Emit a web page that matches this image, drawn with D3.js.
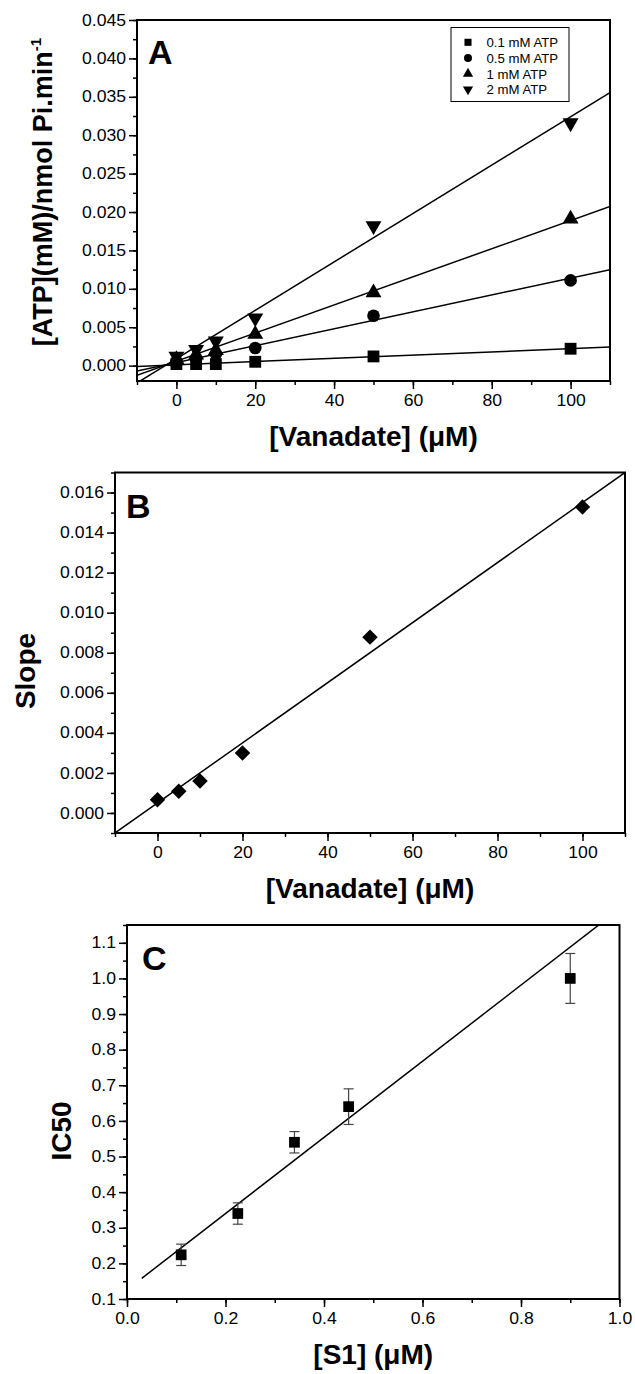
<!DOCTYPE html>
<html><head><meta charset="utf-8">
<script src="https://cdn.jsdelivr.net/npm/d3@7"></script>
<style>
body{margin:0;background:#fff;}
svg{display:block;font-family:"Liberation Sans",Arial,sans-serif;}
.tick text{fill:#000;}
</style></head>
<body>
<svg id="chart" width="635" height="1374"></svg>
<script>
// ---------- Panel A data ----------
const aX = [0, 5, 10, 20, 50, 100];
const aSeriesNames = ["0.1 mM ATP", "0.5 mM ATP", "1 mM ATP", "2 mM ATP"];
const atp01 = [0.0002, 0.0002, 0.0002, 0.0005, 0.0012, 0.0022];
const atp05 = [0.0005, 0.0009, 0.0015, 0.0023, 0.0065, 0.0111];
const atp1  = [0.0008, 0.0014, 0.0020, 0.0041, 0.0095, 0.0191];
const atp2  = [0.0012, 0.0021, 0.0032, 0.0062, 0.0182, 0.0316];
const aFitSlope = [0.000021, 0.00011, 0.000183, 0.000315];
const aFitIntercept = [0.00011, 0.0004, 0.00058, 0.0009];
const aYTicks = [0.000, 0.005, 0.010, 0.015, 0.020, 0.025, 0.030, 0.035, 0.040, 0.045];
const aXTicks = [0, 20, 40, 60, 80, 100];

// ---------- Panel B data ----------
const bX = [0, 5, 10, 20, 50, 100];
const bY = [0.00066, 0.00108, 0.00160, 0.00299, 0.00878, 0.01528];
const bFit = [0.00015, 0.0005]; // slope, intercept
const bYTicks = [0.000, 0.002, 0.004, 0.006, 0.008, 0.010, 0.012, 0.014, 0.016];
const bXTicks = [0, 20, 40, 60, 80, 100];

// ---------- Panel C data ----------
const cX = [0.11, 0.225, 0.34, 0.45, 0.9];
const cY = [0.224, 0.34, 0.54, 0.64, 1.0];
const cErr = [0.03, 0.03, 0.03, 0.05, 0.07];
const cFit = [1.069, 0.126]; // slope, intercept
const cFitRange = [0.03, 0.96];
const cYTicks = [0.1, 0.2, 0.3, 0.4, 0.5, 0.6, 0.7, 0.8, 0.9, 1.0, 1.1];
const cXTicks = [0.0, 0.2, 0.4, 0.6, 0.8, 1.0];

const svg = d3.select("#chart");
svg.append("rect").attr("width", 635).attr("height", 1374).attr("fill", "#fff");

function range(a, b, step) { const r = []; for (let v = a; v <= b + step * 1e-6; v += step) r.push(+v.toFixed(6)); return r; }

function stretch(sel, f) {
  sel.each(function () {
    const w = this.getComputedTextLength();
    d3.select(this).attr("textLength", w * f).attr("lengthAdjust", "spacingAndGlyphs");
  });
}

function panel(opt) {
  const g = svg.append("g");
  const x = d3.scaleLinear().domain(opt.xDomain).range([opt.left, opt.right]);
  const y = d3.scaleLinear().domain(opt.yDomain).range([opt.bottom, opt.top]);
  const id = "clip" + opt.name;
  svg.append("clipPath").attr("id", id).append("rect")
    .attr("x", opt.left).attr("y", opt.top)
    .attr("width", opt.right - opt.left).attr("height", opt.bottom - opt.top);

  // minor ticks
  g.append("g").attr("transform", `translate(0,${opt.bottom})`)
    .call(d3.axisBottom(x).tickValues(opt.xMinor).tickSize(4).tickFormat("").tickSizeOuter(0))
    .call(s => s.select(".domain").remove())
    .selectAll("line").attr("stroke-width", 1.5);
  g.append("g").attr("transform", `translate(${opt.left},0)`)
    .call(d3.axisLeft(y).tickValues(opt.yMinor).tickSize(4).tickFormat("").tickSizeOuter(0))
    .call(s => s.select(".domain").remove())
    .selectAll("line").attr("stroke-width", 1.5);
  // major ticks
  const xa = g.append("g").attr("transform", `translate(0,${opt.bottom})`)
    .call(d3.axisBottom(x).tickValues(opt.xTicks).tickSize(8).tickPadding(6).tickFormat(opt.xFmt).tickSizeOuter(0));
  xa.select(".domain").remove();
  xa.selectAll("line").attr("stroke-width", 1.5);
  const ya = g.append("g").attr("transform", `translate(${opt.left},0)`)
    .call(d3.axisLeft(y).tickValues(opt.yTicks).tickSize(8).tickPadding(3).tickFormat(opt.yFmt).tickSizeOuter(0));
  ya.select(".domain").remove();
  ya.selectAll("line").attr("stroke-width", 1.5);
  g.selectAll("g").attr("font-family", null).attr("font-size", null);
  const tt = g.selectAll(".tick text").style("font-size", "16px");
  stretch(tt, 1.1);

  // frame
  g.append("rect").attr("x", opt.left).attr("y", opt.top)
    .attr("width", opt.right - opt.left).attr("height", opt.bottom - opt.top)
    .attr("fill", "none").attr("stroke", "#000").attr("stroke-width", 2);

  // panel letter
  g.append("text").attr("x", opt.letterX).attr("y", opt.letterY)
    .attr("font-size", 34).attr("font-weight", "bold").text(opt.name);

  // x title
  g.append("text").attr("x", (opt.left + opt.right) / 2).attr("y", opt.bottom + 65)
    .attr("text-anchor", "middle").attr("font-size", 28).attr("font-weight", "bold")
    .text(opt.xTitle);

  return { g, x, y, clip: `url(#${id})` };
}

// ---------------- Panel A ----------------
{
  const P = panel({
    name: "A", left: 137, right: 610, top: 20, bottom: 381,
    xDomain: [-10, 110], yDomain: [-0.002, 0.045],
    xTicks: aXTicks, xMinor: range(-10, 110, 10),
    yTicks: aYTicks, yMinor: range(-0.0025, 0.045, 0.0025).filter(v => v >= -0.002),
    xFmt: d3.format("d"), yFmt: d3.format(".3f"),
    letterX: 148, letterY: 64, xTitle: "[Vanadate] (\u03bcM)"
  });
  const { g, x, y } = P;
  const series = [atp01, atp05, atp1, atp2];
  const syms = [d3.symbolSquare, d3.symbolCircle, d3.symbolTriangle, d3.symbolTriangle];
  const sizes = [140, 125, 110, 110];
  const rot = [0, 0, 0, 180];
  const lg = g.append("g").attr("clip-path", P.clip);
  series.forEach((s, i) => {
    lg.append("line")
      .attr("x1", x(-10)).attr("y1", y(aFitIntercept[i] + aFitSlope[i] * -10))
      .attr("x2", x(110)).attr("y2", y(aFitIntercept[i] + aFitSlope[i] * 110))
      .attr("stroke", "#000").attr("stroke-width", 1.5);
  });
  series.forEach((s, i) => {
    g.selectAll(null).data(s).enter().append("path")
      .attr("d", d3.symbol().type(syms[i]).size(sizes[i]))
      .attr("transform", (d, j) => `translate(${x(aX[j])},${y(d)}) rotate(${rot[i]})`)
      .attr("fill", "#000");
  });
  // y title
  const yt = g.append("text").attr("transform", "translate(52,192) rotate(-90)")
    .attr("text-anchor", "middle").attr("font-size", 27).attr("font-weight", "bold");
  yt.append("tspan").text("[ATP](mM)/nmol Pi.min");
  yt.append("tspan").attr("font-size", 15).attr("dy", -11).text("-1");
  // legend
  const leg = g.append("g");
  leg.append("rect").attr("x", 451).attr("y", 27.5).attr("width", 118).attr("height", 74)
    .attr("fill", "#fff").attr("stroke", "#000").attr("stroke-width", 1);
  const lsizes = [50, 50, 45, 45];
  aSeriesNames.forEach((n, i) => {
    const cy = 42.3 + i * 15.7;
    leg.append("path").attr("d", d3.symbol().type(syms[i]).size(lsizes[i]))
      .attr("transform", `translate(468,${cy}) rotate(${rot[i]})`).attr("fill", "#000");
    leg.append("text").attr("x", 486.5).attr("y", cy + 4.8).attr("font-size", 13.2).text(n);
  });
}

// ---------------- Panel B ----------------
{
  const P = panel({
    name: "B", left: 115, right: 625, top: 472.5, bottom: 833,
    xDomain: [-10, 110], yDomain: [-0.001, 0.017],
    xTicks: bXTicks, xMinor: range(-10, 110, 10),
    yTicks: bYTicks, yMinor: range(-0.001, 0.017, 0.001),
    xFmt: d3.format("d"), yFmt: d3.format(".3f"),
    letterX: 126, letterY: 518, xTitle: "[Vanadate] (\u03bcM)"
  });
  const { g, x, y } = P;
  g.append("g").attr("clip-path", P.clip).append("line")
    .attr("x1", x(-10)).attr("y1", y(bFit[1] + bFit[0] * -10))
    .attr("x2", x(110)).attr("y2", y(bFit[1] + bFit[0] * 110))
    .attr("stroke", "#000").attr("stroke-width", 1.5);
  g.selectAll(null).data(bY).enter().append("path")
    .attr("d", d3.symbol().type(d3.symbolSquare).size(120))
    .attr("transform", (d, j) => `translate(${x(bX[j])},${y(d)}) rotate(45)`)
    .attr("fill", "#000");
  g.append("text").attr("transform", "translate(35,671) rotate(-90)")
    .attr("text-anchor", "middle").attr("font-size", 28).attr("font-weight", "bold").text("Slope");
}

// ---------------- Panel C ----------------
{
  const P = panel({
    name: "C", left: 127, right: 619.5, top: 925, bottom: 1299,
    xDomain: [0, 1], yDomain: [0.1, 1.15],
    xTicks: cXTicks, xMinor: range(0, 1, 0.1),
    yTicks: cYTicks, yMinor: range(0.1, 1.15, 0.05),
    xFmt: d3.format(".1f"), yFmt: d3.format(".1f"),
    letterX: 142, letterY: 970, xTitle: "[S1] (\u03bcM)"
  });
  const { g, x, y } = P;
  g.append("g").attr("clip-path", P.clip).append("line")
    .attr("x1", x(cFitRange[0])).attr("y1", y(cFit[1] + cFit[0] * cFitRange[0]))
    .attr("x2", x(cFitRange[1])).attr("y2", y(cFit[1] + cFit[0] * cFitRange[1]))
    .attr("stroke", "#000").attr("stroke-width", 1.5);
  const eb = g.append("g").attr("stroke", "#444").attr("stroke-width", 1.2);
  cY.forEach((v, j) => {
    const cx = x(cX[j]);
    eb.append("line").attr("x1", cx).attr("x2", cx).attr("y1", y(v - cErr[j])).attr("y2", y(v + cErr[j]));
    eb.append("line").attr("x1", cx - 5).attr("x2", cx + 5).attr("y1", y(v - cErr[j])).attr("y2", y(v - cErr[j]));
    eb.append("line").attr("x1", cx - 5).attr("x2", cx + 5).attr("y1", y(v + cErr[j])).attr("y2", y(v + cErr[j]));
  });
  g.selectAll(null).data(cY).enter().append("path")
    .attr("d", d3.symbol().type(d3.symbolSquare).size(115))
    .attr("transform", (d, j) => `translate(${x(cX[j])},${y(d)})`)
    .attr("fill", "#000");
  g.append("text").attr("transform", "translate(71,1131) rotate(-90)")
    .attr("text-anchor", "middle").attr("font-size", 28).attr("font-weight", "bold").text("IC50");
}
</script>
</body></html>
